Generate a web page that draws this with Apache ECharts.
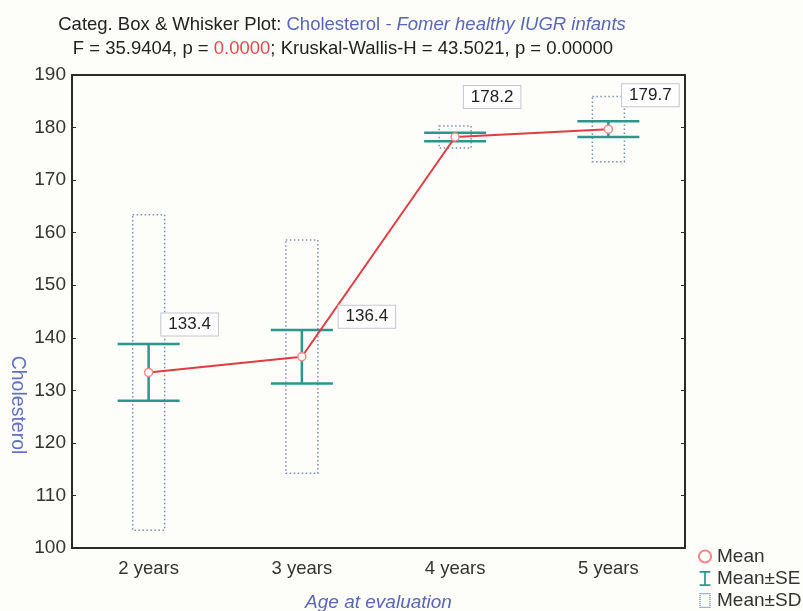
<!DOCTYPE html>
<html>
<head>
<meta charset="utf-8">
<script src="https://cdn.jsdelivr.net/npm/echarts@6/dist/echarts.min.js"></script>
<style>
html,body{margin:0;padding:0;background:#fdfdf9;overflow:hidden;}
#chart{width:803px;height:611px;}
</style>
</head>
<body>
<div id="chart"></div>
<script>
const categories = ['2 years', '3 years', '4 years', '5 years'];
const means = [133.4, 136.4, 178.2, 179.7];
const seValues = [5.4, 5.1, 0.8, 1.5];
const sdValues = [30.0, 22.2, 2.1, 6.2];
const yTicks = [100, 110, 120, 130, 140, 150, 160, 170, 180, 190];

const FONT = 'Arial, "Liberation Sans", sans-serif';
const labelOffsets = [[41, -48], [65, -40], [37, -40], [42, -34]];

function dottedRectPath(w, h, step) {
  let p = '';
  for (let x = 0; x <= w; x += step) { p += 'M' + x + ',0h1.2v1.2h-1.2z M' + x + ',' + h + 'h1.2v1.2h-1.2z '; }
  for (let y = step; y < h; y += step) { p += 'M0,' + y + 'h1.2v1.2h-1.2z M' + w + ',' + y + 'h1.2v1.2h-1.2z '; }
  return 'path://' + p;
}

const chart = echarts.init(document.getElementById('chart'));

const sdData = categories.map((c, i) => [i, means[i] + sdValues[i], means[i] - sdValues[i]]);
const seData = categories.map((c, i) => [i, means[i] + seValues[i], means[i] - seValues[i]]);

const option = {
  backgroundColor: '#fdfdf9',
  animation: false,
  textStyle: { fontFamily: FONT },
  graphic: [
    {
      type: 'text', x: 342, y: 25,
      style: {
        text: '{a|Categ. Box & Whisker Plot: }{b|Cholesterol}{c| - Fomer healthy IUGR infants}',
        textAlign: 'center', textVerticalAlign: 'middle',
        rich: {
          a: { fontSize: 18.5, fontFamily: FONT, fill: '#222' },
          b: { fontSize: 18.5, fontFamily: FONT, fill: '#5a66b8' },
          c: { fontSize: 18.5, fontFamily: FONT, fill: '#5a66b8', fontStyle: 'italic' }
        }
      }
    },
    {
      type: 'text', x: 343, y: 49,
      style: {
        text: '{a|F = 35.9404, p = }{r|0.0000}{a|; Kruskal-Wallis-H = 43.5021, p = 0.00000}',
        textAlign: 'center', textVerticalAlign: 'middle',
        rich: {
          a: { fontSize: 18.5, fontFamily: FONT, fill: '#222' },
          r: { fontSize: 18.5, fontFamily: FONT, fill: '#e04a4a' }
        }
      }
    },
    {
      type: 'text', x: 17, y: 405, rotation: -Math.PI / 2,
      style: {
        text: 'Cholesterol', fontSize: 19.5, fontFamily: FONT, fill: '#6270c2',
        textAlign: 'center', textVerticalAlign: 'middle'
      }
    }
  ],
  grid: { left: 72, right: 118, top: 75, bottom: 63, outerBoundsMode: 'none', containLabel: false },
  legend: {
    left: 697, top: 547, orient: 'vertical', itemGap: 3, itemWidth: 14, itemHeight: 15, padding: 0,
    textStyle: { fontSize: 19, color: '#333', fontFamily: FONT },
    data: [
      { name: 'Mean' },
      { name: 'Mean±SE', icon: 'path://M0,0h10v1.6h-4.2v10.8h4.2v1.6h-10v-1.6h4.2v-10.8h-4.2z' },
      { name: 'Mean±SD', icon: dottedRectPath(10, 14, 2), itemStyle: { color: '#6f7fb5' } }
    ]
  },
  xAxis: [
    {
      type: 'category', data: categories, position: 'bottom',
      name: 'Age at evaluation', nameLocation: 'middle', nameGap: 45,
      nameTextStyle: { fontSize: 19, color: '#5a66b8', fontStyle: 'italic', fontFamily: FONT },
      axisLine: { lineStyle: { color: '#2a2a2a', width: 2 } },
      axisTick: { inside: true, alignWithLabel: true, length: 4, lineStyle: { color: '#2a2a2a' } },
      axisLabel: { fontSize: 18.5, color: '#333', margin: 11, fontFamily: FONT },
      splitLine: { show: false }
    },
    {
      type: 'category', data: categories, position: 'top',
      axisLine: { lineStyle: { color: '#2a2a2a', width: 2 } },
      axisTick: { inside: true, alignWithLabel: true, length: 4, lineStyle: { color: '#2a2a2a' } },
      axisLabel: { show: false }
    }
  ],
  yAxis: [
    {
      type: 'value', min: 100, max: 190, interval: 10, position: 'left',
      axisLine: { show: true, lineStyle: { color: '#2a2a2a', width: 2 } },
      axisTick: { show: true, inside: true, length: 4, lineStyle: { color: '#2a2a2a' } },
      axisLabel: {
        fontSize: 19, color: '#333', margin: 6, fontFamily: FONT,
        formatter: v => (yTicks.indexOf(v) >= 0 ? String(v) : '')
      },
      splitLine: { show: false }
    },
    {
      type: 'value', min: 100, max: 190, interval: 10, position: 'right',
      axisLine: { show: true, lineStyle: { color: '#2a2a2a', width: 2 } },
      axisTick: { show: true, inside: true, length: 4, lineStyle: { color: '#2a2a2a' } },
      axisLabel: { show: false },
      splitLine: { show: false }
    }
  ],
  series: [
    {
      name: 'Mean±SD', type: 'custom', xAxisIndex: 0, yAxisIndex: 0,
      itemStyle: { color: '#6f7fb5' },
      data: sdData,
      renderItem: function (params, api) {
        const top = api.coord([api.value(0), api.value(1)]);
        const bot = api.coord([api.value(0), api.value(2)]);
        const w = 32;
        return {
          type: 'rect',
          shape: { x: top[0] - w / 2, y: top[1], width: w, height: bot[1] - top[1] },
          style: { fill: 'none', stroke: '#7f8cb8', lineWidth: 1.5, lineDash: [1.5, 2.5] }
        };
      }
    },
    {
      name: 'Mean±SE', type: 'custom', xAxisIndex: 0, yAxisIndex: 0,
      itemStyle: { color: '#2b978a' },
      data: seData,
      renderItem: function (params, api) {
        const top = api.coord([api.value(0), api.value(1)]);
        const bot = api.coord([api.value(0), api.value(2)]);
        const w = 62;
        const st = { stroke: '#2b978a', lineWidth: 2.5 };
        return {
          type: 'group',
          children: [
            { type: 'line', shape: { x1: top[0], y1: top[1], x2: bot[0], y2: bot[1] }, style: st },
            { type: 'line', shape: { x1: top[0] - w / 2, y1: top[1], x2: top[0] + w / 2, y2: top[1] }, style: st },
            { type: 'line', shape: { x1: bot[0] - w / 2, y1: bot[1], x2: bot[0] + w / 2, y2: bot[1] }, style: st }
          ]
        };
      }
    },
    {
      name: 'Mean', type: 'line', xAxisIndex: 0, yAxisIndex: 0,
      data: means.map((v, i) => ({ value: v, label: { offset: labelOffsets[i] } })),
      symbol: 'circle', symbolSize: 8,
      lineStyle: { color: '#e03c44', width: 2 },
      itemStyle: { color: '#ffffff', borderColor: '#f08a8a', borderWidth: 1.5 },
      label: {
        show: true, position: 'inside',
        formatter: p => p.value.toFixed(1),
        fontSize: 17, color: '#222', fontFamily: FONT,
        backgroundColor: '#ffffff', borderColor: '#c4c6d0', borderWidth: 1,
        padding: [3, 7, 2, 7]
      },
      z: 5
    }
  ]
};
chart.setOption(option);
</script>
</body>
</html>
